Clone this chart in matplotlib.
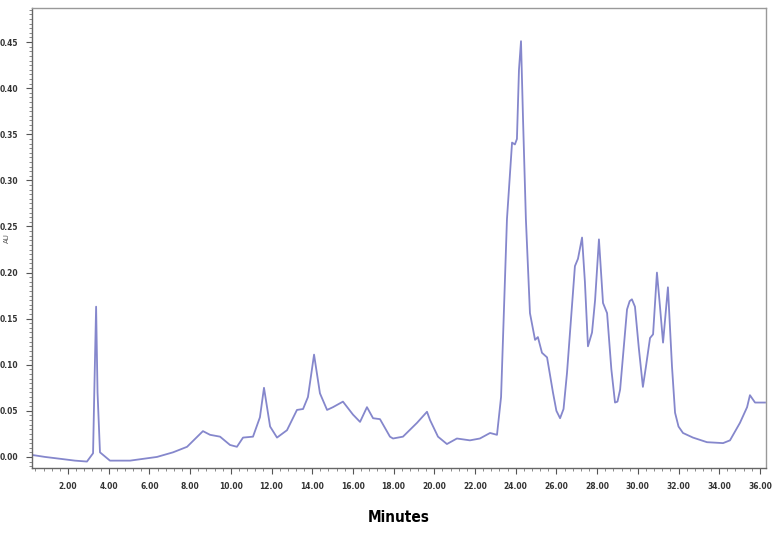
import matplotlib
matplotlib.use('Agg')
import matplotlib.pyplot as plt
from matplotlib.ticker import MultipleLocator, FormatStrFormatter

# retention time (min) and absorbance (AU)
minutes = [0.28, 0.87, 1.61, 2.34, 2.93, 3.23, 3.30, 3.38, 3.45, 3.57,
           4.06, 5.05, 6.37, 7.16, 7.85, 8.63, 8.98, 9.47, 9.96, 10.30,
           10.60, 11.09, 11.43, 11.63, 11.93, 12.27, 12.76, 13.25, 13.55, 13.79,
           14.09, 14.38, 14.73, 15.02, 15.51, 16.00, 16.35, 16.69, 16.99, 17.33,
           17.82, 17.97, 18.46, 19.15, 19.64, 19.79, 20.18, 20.62, 21.11, 21.75,
           22.24, 22.74, 23.08, 23.28, 23.57, 23.82, 23.96, 24.06, 24.16, 24.26,
           24.36, 24.50, 24.70, 24.95, 25.09, 25.29, 25.54, 25.83, 26.00, 26.18,
           26.35, 26.52, 26.91, 27.06, 27.26, 27.40, 27.55, 27.75, 27.90, 28.09,
           28.29, 28.49, 28.70, 28.88, 29.00, 29.13, 29.47, 29.60, 29.71, 29.86,
           30.05, 30.25, 30.40, 30.60, 30.75, 30.94, 31.09, 31.24, 31.48, 31.68,
           31.83, 32.00, 32.22, 32.71, 33.40, 34.19, 34.53, 35.02, 35.37, 35.51,
           35.76, 36.00, 36.25]
au = [0.002, 0.000, -0.002, -0.004, -0.005, 0.004, 0.080, 0.163, 0.070, 0.005,
      -0.004, -0.004, 0.000, 0.005, 0.011, 0.028, 0.024, 0.022, 0.013, 0.011,
      0.021, 0.022, 0.043, 0.075, 0.033, 0.021, 0.029, 0.051, 0.052, 0.065,
      0.111, 0.069, 0.051, 0.054, 0.060, 0.046, 0.038, 0.054, 0.042, 0.041,
      0.022, 0.020, 0.022, 0.037, 0.049, 0.040, 0.022, 0.014, 0.020, 0.018,
      0.020, 0.026, 0.024, 0.065, 0.258, 0.341, 0.339, 0.345, 0.420, 0.451,
      0.366, 0.258, 0.156, 0.127, 0.130, 0.113, 0.108, 0.070, 0.050, 0.042,
      0.052, 0.091, 0.207, 0.215, 0.238, 0.190, 0.120, 0.135, 0.170, 0.236,
      0.167, 0.156, 0.095, 0.059, 0.060, 0.073, 0.160, 0.169, 0.171, 0.163,
      0.118, 0.076, 0.098, 0.129, 0.133, 0.200, 0.163, 0.124, 0.184, 0.098,
      0.048, 0.033, 0.026, 0.021, 0.016, 0.015, 0.018, 0.037, 0.054, 0.067,
      0.059, 0.059, 0.059]

fig = plt.figure(figsize=(7.75, 5.44), dpi=100)
ax = fig.add_axes([0.0413, 0.1397, 0.9471, 0.8456])

ax.plot(minutes, au, color='#8587cc', lw=1.3)

ax.set_xlim(0.23, 36.3)
ax.set_ylim(-0.012, 0.487)

ax.xaxis.set_major_locator(MultipleLocator(2))
ax.xaxis.set_minor_locator(MultipleLocator(0.4))
ax.yaxis.set_major_locator(MultipleLocator(0.05))
ax.yaxis.set_minor_locator(MultipleLocator(0.005))
ax.xaxis.set_major_formatter(FormatStrFormatter('%.2f'))
ax.yaxis.set_major_formatter(FormatStrFormatter('%.2f'))

tick_font = dict(family='DejaVu Sans', stretch='condensed', weight='bold')
for lbl in ax.get_xticklabels() + ax.get_yticklabels():
    lbl.set_fontproperties(matplotlib.font_manager.FontProperties(size=6, **tick_font))
    lbl.set_color('#333333')

ax.tick_params(which='major', length=4, width=0.8, color='#555555', pad=6)
ax.tick_params(which='minor', length=2.5, width=0.6, color='#777777')

for side in ['left', 'bottom']:
    ax.spines[side].set_color('#666666')
    ax.spines[side].set_linewidth(1.0)
for side in ['top', 'right']:
    ax.spines[side].set_color('#999999')
    ax.spines[side].set_linewidth(1.0)

ax.set_xlabel('Minutes', fontsize=11, fontweight='bold', fontstretch='condensed', labelpad=14)
ax.set_ylabel('AU', fontsize=5, color='#555555', labelpad=1)
ax.yaxis.set_label_coords(-0.03, 0.5)

fig.savefig('out.png', dpi=100)
